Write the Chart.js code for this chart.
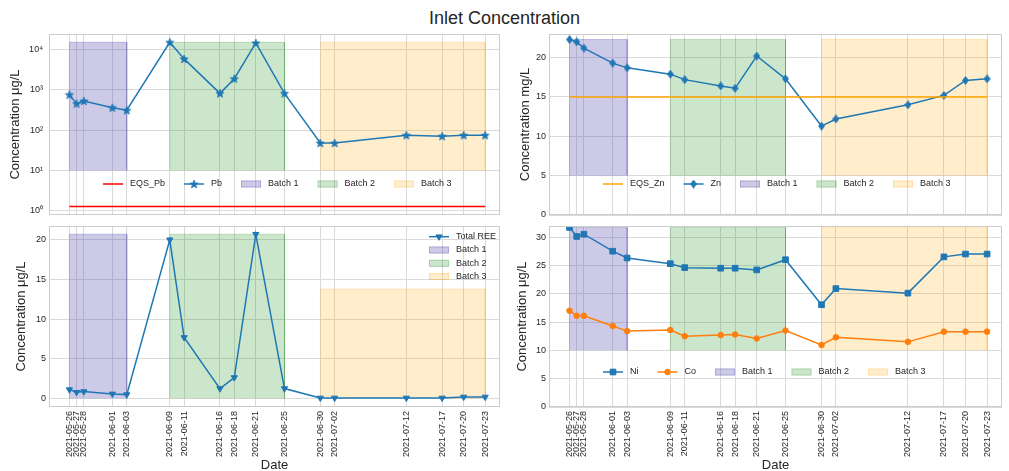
<!DOCTYPE html>
<html lang="en">
<head>
<meta charset="UTF-8">
<title>Inlet Concentration</title>
<script src="https://cdn.jsdelivr.net/npm/chart.js"></script>
<style>
    body {
        margin: 0;
        background: #ffffff;
        overflow: hidden;
        font-family: "Liberation Sans", Arial, sans-serif;
    }
    #wrap {
        position: relative;
        width: 1009px;
        height: 471px;
        overflow: hidden;
    }
    h1 {
        position: absolute;
        top: 8px;
        left: 0;
        width: 1009px;
        margin: 0;
        text-align: center;
        font-size: 18px;
        line-height: 20px;
        font-weight: normal;
        color: #262626;
    }
    canvas {
        position: absolute;
    }
</style>
</head>
<body>
<div id="wrap">
    <h1>Inlet Concentration</h1>
    <canvas id="pbChart" width="505" height="192" style="left:0;top:28px"></canvas>
    <canvas id="znChart" width="509" height="192" style="left:500px;top:28px"></canvas>
    <canvas id="reeChart" width="505" height="255" style="left:0;top:220px"></canvas>
    <canvas id="niChart" width="509" height="255" style="left:500px;top:220px"></canvas>
</div>

<script>
    // sampling dates (shared x axis)
    const dates = ['2021-05-26', '2021-05-27', '2021-05-28', '2021-06-01', '2021-06-03',
        '2021-06-09', '2021-06-11', '2021-06-16', '2021-06-18', '2021-06-21', '2021-06-25',
        '2021-06-30', '2021-07-02', '2021-07-12', '2021-07-17', '2021-07-20', '2021-07-23'];

    // inlet concentrations
    const pb = [755, 453, 526, 360, 310, 14900, 5780, 814, 1870, 14350, 814, 48, 48, 75, 71, 75, 75];
    const eqsPb = 1.3;
    const zn = [22.3, 22.0, 21.2, 19.3, 18.7, 17.9, 17.2, 16.4, 16.1, 20.2, 17.3, 11.3, 12.2, 14.0, 15.2, 17.1, 17.3];
    const eqsZn = 15;
    const totalRee = [1.13, 0.8, 0.88, 0.59, 0.5, 20.0, 7.7, 1.26, 2.65, 20.7, 1.26, 0.08, 0.08, 0.08, 0.08, 0.2, 0.2];
    const ni = [31.7, 30.1, 30.5, 27.5, 26.3, 25.3, 24.6, 24.5, 24.5, 24.2, 26.0, 18.05, 20.9, 20.1, 26.5, 27.0, 27.0];
    const co = [17.0, 16.1, 16.1, 14.3, 13.4, 13.6, 12.5, 12.7, 12.8, 12.1, 13.5, 10.95, 12.3, 11.5, 13.3, 13.3, 13.3];

    // batch windows
    const batchLabels = ['Batch 1', 'Batch 2', 'Batch 3'];
    const batchStart = ['2021-05-26', '2021-06-09', '2021-06-30'];
    const batchEnd = ['2021-06-03', '2021-06-25', '2021-07-23'];
    const batchColors = ['rgba(90,80,180,0.3)', 'rgba(0,128,0,0.2)', 'rgba(255,165,0,0.2)'];
    // vertical extent of the shaded windows in each panel
    const pbBatchLow = [10, 10, 10];
    const pbBatchHigh = [14900, 14900, 14900];
    const znBatchLow = [5, 5, 5];
    const znBatchHigh = [22.3, 22.3, 22.3];
    const reeBatchLow = [0, 0, 0];
    const reeBatchHigh = [20.7, 20.7, 13.8];
    const niBatchLow = [10, 10, 10];
    const niBatchHigh = [31.7, 31.7, 31.7];

    // y tick values per panel
    const pbTicks = [1, 10, 100, 1000, 10000];
    const pbTickLabels = ['10⁰', '10¹', '10²', '10³', '10⁴'];
    const znTicks = [0, 5, 10, 15, 20];
    const reeTicks = [0, 5, 10, 15, 20];
    const niTicks = [0, 5, 10, 15, 20, 25, 30];

    const BLUE = '#1f77b4';
    const ORANGE = '#ff7f0e';
    const TEXT = '#262626';
    const GRID = '#dadada';
    const FONT = '"Liberation Sans", Arial, sans-serif';

    const dayOf = d => (Date.parse(d) - Date.parse(dates[0])) / 864e5;
    const pts = vals => dates.map((d, i) => ({ x: dayOf(d), y: vals[i] }));

    // matplotlib-like markers that Chart.js has no built-in style for
    function markerCanvas(w, h, path) {
        const c = document.createElement('canvas');
        c.width = w; c.height = h;
        const g = c.getContext('2d');
        g.fillStyle = BLUE;
        g.strokeStyle = BLUE;
        g.lineWidth = 0.8;
        g.beginPath();
        path(g, w, h);
        g.closePath();
        g.fill();
        g.stroke();
        return c;
    }
    const starMarker = markerCanvas(10, 10, (g, w, h) => {
        const cx = w / 2, cy = h / 2 + 0.4, ro = 4.3, ri = 1.8;
        for (let k = 0; k < 10; k++) {
            const r = k % 2 ? ri : ro;
            const a = -Math.PI / 2 + k * Math.PI / 5;
            g.lineTo(cx + r * Math.cos(a), cy + r * Math.sin(a));
        }
    });
    const thinDiamond = markerCanvas(7, 9, (g, w, h) => {
        g.moveTo(w / 2, 0.5);
        g.lineTo(w - 0.5, h / 2);
        g.lineTo(w / 2, h - 0.5);
        g.lineTo(0.5, h / 2);
    });

    function seriesDs(label, vals, color, marker, radius, rotation) {
        return {
            label: label, data: pts(vals), kind: 'line',
            borderColor: color, backgroundColor: color, borderWidth: 1.5,
            pointStyle: marker, pointRadius: radius, pointRotation: rotation || 0,
            pointBorderWidth: 1, pointBackgroundColor: color, pointBorderColor: color,
            fill: false, tension: 0
        };
    }

    function eqsDs(label, value, color) {
        return {
            label: label, kind: 'line',
            data: [{ x: dayOf(dates[0]), y: value }, { x: dayOf(dates[dates.length - 1]), y: value }],
            borderColor: color, backgroundColor: color, borderWidth: 1.5,
            pointRadius: 0, fill: false
        };
    }

    function batchDs(i, lo, hi) {
        const s = dayOf(batchStart[i]), e = dayOf(batchEnd[i]);
        return {
            label: batchLabels[i], kind: 'patch',
            data: [{ x: s, y: lo[i] }, { x: s, y: hi[i] }, { x: e, y: hi[i] }, { x: e, y: lo[i] }],
            borderColor: batchColors[i], backgroundColor: batchColors[i], borderWidth: 1,
            pointRadius: 0, fill: { value: lo[i] }, tension: 0
        };
    }

    // light frame round the plot area
    const frame = {
        id: 'frame',
        afterDatasetsDraw(chart) {
            const { ctx, chartArea: a } = chart;
            ctx.save();
            ctx.strokeStyle = '#cccccc';
            ctx.lineWidth = 1;
            ctx.strokeRect(Math.round(a.left) + 0.5, Math.round(a.top) + 0.5,
                Math.round(a.right - a.left) - 1, Math.round(a.bottom - a.top) - 1);
            ctx.restore();
        }
    };

    // frameless legend drawn inside the axes, like matplotlib
    const mplLegend = {
        id: 'mplLegend',
        afterDraw(chart, args, opts) {
            const ctx = chart.ctx, a = chart.chartArea;
            const items = chart.data.datasets.filter(d => d.label);
            const H = 20, PAD = 7, GAP = 19;
            ctx.save();
            ctx.font = '9px ' + FONT;
            ctx.textBaseline = 'middle';
            let x, y;
            if (opts.column) {
                const w = Math.max(...items.map(d => ctx.measureText(d.label).width));
                x = a.right - opts.right - H - PAD - w;
                y = a.top + opts.top;
            } else {
                x = a.left + opts.left;
                y = a.bottom - opts.bottom;
            }
            items.forEach(d => {
                if (d.kind === 'patch') {
                    ctx.fillStyle = d.backgroundColor;
                    ctx.fillRect(x, y - 3.5, H, 7);
                    ctx.strokeStyle = d.borderColor;
                    ctx.lineWidth = 1;
                    ctx.strokeRect(x + 0.5, y - 3, H - 1, 6);
                } else {
                    ctx.strokeStyle = d.borderColor;
                    ctx.lineWidth = d.borderWidth;
                    ctx.beginPath();
                    ctx.moveTo(x, y);
                    ctx.lineTo(x + H, y);
                    ctx.stroke();
                    if (d.pointRadius > 0) {
                        ctx.fillStyle = d.borderColor;
                        ctx.lineWidth = 1;
                        Chart.helpers.drawPoint(ctx, {
                            pointStyle: d.pointStyle, radius: d.pointRadius,
                            rotation: d.pointRotation || 0, borderWidth: 1
                        }, x + H / 2, y);
                    }
                }
                ctx.fillStyle = TEXT;
                ctx.fillText(d.label, x + H + PAD, y);
                if (opts.column) y += opts.rowStep;
                else x += H + PAD + ctx.measureText(d.label).width + GAP;
            });
            ctx.restore();
        }
    };

    function makeChart(id, p) {
        const yScale = {
            type: p.yType || 'linear',
            min: p.yMin,
            max: p.yMax,
            afterBuildTicks: s => { s.ticks = p.yTicks.map(v => ({ value: v })); },
            // fixed axis width, and no extra room claimed for tick label overhang
            afterFit: s => { s.width = 49; s.paddingTop = 0; s.paddingBottom = 0; },
            grid: { color: GRID, drawTicks: false, lineWidth: 1 },
            border: { display: false },
            ticks: { padding: p.yTickPad, color: TEXT, font: { family: FONT, size: 9 } },
            title: {
                display: true, text: p.yTitle, color: TEXT,
                font: { family: FONT, size: 13 }, padding: { top: p.yTitlePad, bottom: 0 }
            }
        };
        if (p.yLabels) {
            yScale.ticks.callback = (v, i) => p.yLabels[i];
        }

        return new Chart(document.getElementById(id), {
            type: 'line',
            data: { datasets: p.datasets },
            options: {
                responsive: false,
                animation: false,
                events: [],
                layout: { padding: { top: 6, right: p.padRight, left: 0, bottom: 0 } },
                plugins: {
                    legend: { display: false },
                    tooltip: { enabled: false },
                    mplLegend: p.legend
                },
                scales: {
                    x: {
                        type: 'linear',
                        min: -2.85,
                        max: 60.07,
                        afterBuildTicks: s => { s.ticks = dates.map(d => ({ value: dayOf(d) })); },
                        afterFit: s => { s.height = p.xHeight; s.paddingLeft = 0; s.paddingRight = 0; },
                        grid: { color: GRID, drawTicks: false, lineWidth: 1 },
                        border: { display: false },
                        ticks: {
                            display: p.showX, autoSkip: false, minRotation: 90, maxRotation: 90,
                            padding: 4, color: TEXT, font: { family: FONT, size: 9 },
                            callback: (v, i) => dates[i]
                        },
                        title: {
                            display: p.showX, text: 'Date', color: TEXT,
                            font: { family: FONT, size: 13 }, padding: { top: 0, bottom: 1.8 }
                        }
                    },
                    y: yScale
                }
            },
            plugins: [frame, mplLegend]
        });
    }

    makeChart('pbChart', {
        yType: 'logarithmic', yMin: 0.796, yMax: 23880,
        yTicks: pbTicks, yLabels: pbTickLabels, yTickPad: 6,
        yTitle: 'Concentration μg/L', yTitlePad: 7.2,
        padRight: 5, xHeight: 5, showX: false,
        legend: { left: 54, bottom: 31 },
        datasets: [
            eqsDs('EQS_Pb', eqsPb, '#ff0000'),
            seriesDs('Pb', pb, BLUE, starMarker, 4),
            batchDs(0, pbBatchLow, pbBatchHigh),
            batchDs(1, pbBatchLow, pbBatchHigh),
            batchDs(2, pbBatchLow, pbBatchHigh)
        ]
    });

    makeChart('znChart', {
        yMin: 0, yMax: 23.0, yTicks: znTicks, yTickPad: 3,
        yTitle: 'Concentration mg/L', yTitlePad: 17.2,
        padRight: 7, xHeight: 5, showX: false,
        legend: { left: 54, bottom: 31 },
        datasets: [
            eqsDs('EQS_Zn', eqsZn, '#ffa500'),
            seriesDs('Zn', zn, BLUE, thinDiamond, 4),
            batchDs(0, znBatchLow, znBatchHigh),
            batchDs(1, znBatchLow, znBatchHigh),
            batchDs(2, znBatchLow, znBatchHigh)
        ]
    });

    makeChart('reeChart', {
        yMin: -1.06, yMax: 21.74, yTicks: reeTicks, yTickPad: 3,
        yTitle: 'Concentration μg/L', yTitlePad: 13.2,
        padRight: 5, xHeight: 68, showX: true,
        legend: { column: true, right: 4, top: 10.7, rowStep: 13.3 },
        datasets: [
            seriesDs('Total REE', totalRee, BLUE, 'triangle', 3.6, 180),
            batchDs(0, reeBatchLow, reeBatchHigh),
            batchDs(1, reeBatchLow, reeBatchHigh),
            batchDs(2, reeBatchLow, reeBatchHigh)
        ]
    });

    makeChart('niChart', {
        yMin: 0, yMax: 31.95, yTicks: niTicks, yTickPad: 3,
        yTitle: 'Concentration μg/L', yTitlePad: 14.7,
        padRight: 7, xHeight: 68, showX: true,
        legend: { left: 54, bottom: 35 },
        datasets: [
            seriesDs('Ni', ni, BLUE, 'rect', 4),
            seriesDs('Co', co, ORANGE, 'circle', 2.8),
            batchDs(0, niBatchLow, niBatchHigh),
            batchDs(1, niBatchLow, niBatchHigh),
            batchDs(2, niBatchLow, niBatchHigh)
        ]
    });
</script>
</body>
</html>
